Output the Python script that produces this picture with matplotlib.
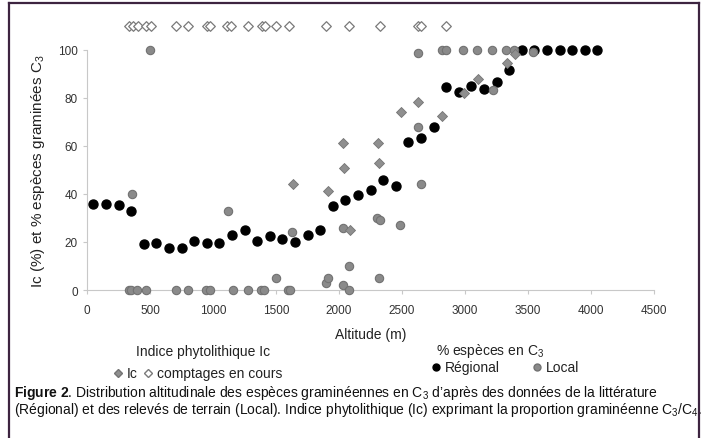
import numpy as np
import matplotlib.pyplot as plt
from matplotlib.lines import Line2D

plt.rcParams['font.family'] = ['Liberation Sans', 'DejaVu Sans']
plt.rcParams['mathtext.fontset'] = 'custom'
plt.rcParams['mathtext.rm'] = 'Liberation Sans'
plt.rcParams['mathtext.it'] = 'Liberation Sans'
plt.rcParams['mathtext.bf'] = 'Liberation Sans:bold'

# % C3 grass species, regional literature data (every 100 m)
regional_alt = [50, 150, 250, 350, 450, 550, 650, 750, 850, 950, 1050, 1150, 1250, 1350,
                1450, 1550, 1650, 1750, 1850, 1950, 2050, 2150, 2250, 2350, 2450, 2550,
                2650, 2750, 2850, 2950, 3050, 3150, 3250, 3350, 3450, 3550, 3650, 3750,
                3850, 3950, 4050]
regional_pct = [36, 36, 35.5, 33, 19, 19.6, 17.5, 17.5, 20.5, 19.7, 19.7, 22.8, 24.9, 20.4,
                22.4, 21.2, 20, 22.8, 24.9, 34.9, 37.5, 39.5, 41.5, 45.7, 43.2, 61.5,
                63.2, 68, 84.7, 82.7, 85.2, 83.8, 86.8, 91.5, 100, 100, 100, 100,
                100, 100, 100]

# % C3 grass species, field surveys
local_alt = [330, 352, 397, 472, 710, 804, 948, 974, 1158, 1279, 1380, 1406, 1598, 1611,
             355, 500, 1122, 1497, 1624, 1897, 1910, 2029, 2034, 2082, 2080, 2305, 2322,
             2317, 2485, 2651, 2624, 2624, 2815, 2849, 2987, 3098, 3211, 3220, 3323, 3389,
             3542]
local_pct = [0, 0, 0, 0, 0, 0, 0, 0, 0, 0, 0, 0, 0, 0,
             40, 100, 33, 5, 24, 3, 5, 26, 2, 10, 0, 30, 29,
             5, 27, 44, 68, 98.8, 100, 100, 100, 100, 100, 83.3, 100, 100,
             99]

# phytolith index Ic
ic_alt = [1637, 1915, 2034, 2040, 2087, 2312, 2317, 2490, 2624, 2815, 2992, 3101, 3331, 3397]
ic_val = [44, 41.4, 61.3, 50.7, 25, 61.3, 52.8, 74.3, 78.2, 72.5, 82, 87.9, 94.6, 98.3]

# sites with phytolith counts still in progress
pending_alt = [330, 365, 405, 472, 505, 705, 804, 952, 976, 1113, 1146, 1280, 1386, 1415,
               1498, 1605, 1895, 2082, 2325, 2625, 2648, 2851]
pending_y = 110

fig = plt.figure(figsize=(7.04, 4.39), dpi=100)
ax = fig.add_axes([87 / 704, 1 - 291 / 439, 567 / 704, 276 / 439])

ax.scatter(regional_alt, regional_pct, s=42, color='black', zorder=3, clip_on=False)
ax.scatter(local_alt, local_pct, s=36, color='#8a8a8a', edgecolors='#727272',
           linewidths=0.8, zorder=4, clip_on=False)
ax.scatter(ic_alt, ic_val, s=26, marker='D', color='#8f8f8f', edgecolors='#747474',
           linewidths=0.6, zorder=5, clip_on=False)
ax.scatter(pending_alt, [pending_y] * len(pending_alt), s=24, marker='D', facecolor='white',
           edgecolors='#7a7a7a', linewidths=0.9, zorder=5, clip_on=False)

ax.set_xlim(0, 4500)
ax.set_ylim(0, 115)
ax.set_xticks(np.arange(0, 4501, 500))
ax.set_yticks(np.arange(0, 101, 20))
for side in ['top', 'right']:
    ax.spines[side].set_visible(False)
for side in ['left', 'bottom']:
    ax.spines[side].set_color('#c8c8c8')
    ax.spines[side].set_linewidth(0.8)
ax.spines['left'].set_bounds(0, 100)
ax.tick_params(axis='both', colors='#c8c8c8', labelcolor='#333333', labelsize=8.5,
               length=3, width=0.8)
ax.tick_params(axis='x', pad=7)
ax.set_xlabel('Altitude (m)', fontsize=10, color='#222222', labelpad=8)
fig.text(38 / 704, 1 - 171 / 439, r'Ic (%) et % espèces graminées C$_{\mathrm{3}}$',
         rotation=90, ha='center', va='center', fontsize=11, color='#222222')


def fig_xy(px, py):
    return px / 704, 1 - py / 439


# legend blocks drawn by hand below the axis title
fig.text(*fig_xy(203, 352), 'Indice phytolithique Ic', ha='center', va='center',
         fontsize=10, color='#222222')
fig.text(*fig_xy(490, 351), r'% espèces en C$_{\mathrm{3}}$', ha='center', va='center',
         fontsize=10, color='#222222')
legend_marks = [
    (118, 374, 'D', '#8f8f8f', '#747474', 4.5, 'Ic'),
    (148, 374, 'D', 'white', '#7a7a7a', 4.5, 'comptages en cours'),
    (436, 368, 'o', 'black', 'black', 5, 'Régional'),
    (537, 368, 'o', '#8a8a8a', '#727272', 5, 'Local'),
]
for px, py, mk, fc, ec, ms, label in legend_marks:
    fig.add_artist(Line2D([px / 704], [1 - py / 439], marker=mk, markersize=ms,
                          markerfacecolor=fc, markeredgecolor=ec, linestyle='none'))
    fig.text(*fig_xy(px + 9, py), label, ha='left', va='center', fontsize=10,
             color='#222222')

# caption
fig.text(*fig_xy(14, 393), r'$\mathbf{Figure\ 2}$. Distribution altitudinale des espèces '
         r'graminéennes en C$_{\mathrm{3}}$ d’après des données de la littérature',
         ha='left', va='center', fontsize=10, color='#111111')
fig.text(*fig_xy(14, 410), r'(Régional) et des relevés de terrain (Local). Indice '
         r'phytolithique (Ic) exprimant la proportion graminéenne '
         r'C$_{\mathrm{3}}$/C$_{\mathrm{4}}$.',
         ha='left', va='center', fontsize=10, color='#111111')

# frame around the figure
frame_color = '#3d2440'
for xs, ys in [([9, 9], [439, 3.5]), ([9, 699], [3.5, 3.5]), ([699, 699], [3.5, 439])]:
    fig.add_artist(Line2D([x / 704 for x in xs], [1 - y / 439 for y in ys],
                          color=frame_color, linewidth=1.6, zorder=10))

fig.savefig('out.png', dpi=100)
